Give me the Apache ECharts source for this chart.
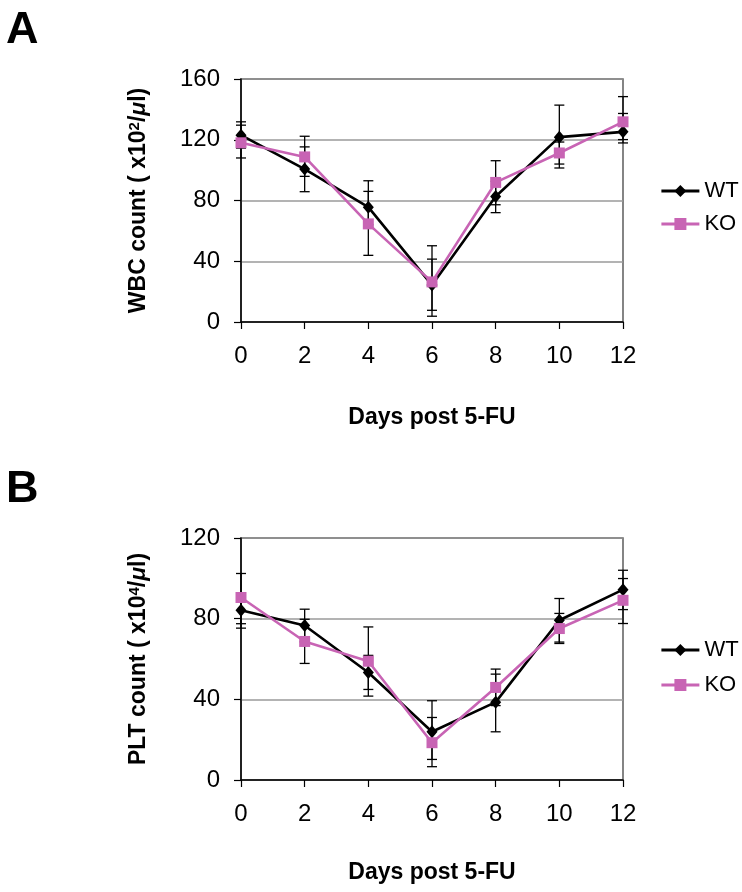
<!DOCTYPE html>
<html>
<head>
<meta charset="utf-8">
<script src="https://cdn.jsdelivr.net/npm/echarts@6/dist/echarts.min.js"></script>
<style>
html,body{margin:0;padding:0;background:#fff;}
#chart{width:742px;height:892px;}
</style>
</head>
<body>
<div id="chart"></div>
<script>
// ---- data ----
const days = [0, 2, 4, 6, 8, 10, 12];
const xTicks = [0, 2, 4, 6, 8, 10, 12];

// Panel A: WBC count (x10^2/ul)
const wbcWT   = [123, 100.7, 75.6, 24.3, 82.6, 121.7, 125.2];
const wbcWTHi = [131.8, 115.3, 93, 41.4, 92.6, 142.8, 137.3];
const wbcWTLo = [114.5, 85.8, 64, 7.7, 72, 101.4, 117.9];
const wbcKO   = [118, 108.7, 64.6, 26.4, 91.9, 111.3, 131.8];
const wbcKOHi = [129.6, 122.3, 86, 50.2, 106.2, 118.5, 148.4];
const wbcKOLo = [108, 95.9, 43.9, 3.8, 77.2, 104, 120.1];
const wbcTicks = [0, 40, 80, 120, 160];

// Panel B: PLT count (x10^4/ul)
const pltWT   = [84.2, 76.6, 53.3, 23.9, 38.6, 79.2, 94.4];
const pltWTHi = [92.5, 84.7, 61.8, 39.3, 52.5, 90, 104];
const pltWTLo = [75.3, 68.5, 44.9, 10.2, 23.9, 68.4, 84.5];
const pltKO   = [90.5, 68.7, 58.9, 18.5, 45.9, 75.1, 89.1];
const pltKOHi = [102.4, 79.7, 75.9, 31, 55, 82.6, 99.9];
const pltKOLo = [77.5, 57.8, 41.6, 6.6, 36.9, 67.7, 77.6];
const pltTicks = [0, 40, 80, 120];

const seriesNames = ['WT', 'KO'];

// ---- styles ----
const BLACK = '#000000';
const PINK = '#c864b4';
const FONT = '"Liberation Sans", Arial, Helvetica, sans-serif';

const chart = echarts.init(document.getElementById('chart'), null, {renderer: 'canvas'});

function pts(v) { return days.map((d, i) => [d, v[i]]); }
function errs(lo, hi) { return days.map((d, i) => [d, lo[i], hi[i]]); }

function errRender(params, api) {
  const x = api.value(0);
  const p1 = api.coord([x, api.value(1)]);
  const p2 = api.coord([x, api.value(2)]);
  const w = 5;
  const st = {stroke: BLACK, lineWidth: 1.3};
  return {
    type: 'group',
    children: [
      {type: 'line', shape: {x1: p1[0], y1: p1[1], x2: p2[0], y2: p2[1]}, style: st},
      {type: 'line', shape: {x1: p1[0] - w, y1: p1[1], x2: p1[0] + w, y2: p1[1]}, style: st},
      {type: 'line', shape: {x1: p2[0] - w, y1: p2[1], x2: p2[0] + w, y2: p2[1]}, style: st}
    ]
  };
}

function xAxis(gi, nameGap) {
  return {
    type: 'value', gridIndex: gi, min: xTicks[0], max: xTicks[xTicks.length - 1], interval: 2,
    name: 'Days post 5-FU', nameLocation: 'middle', nameGap: nameGap,
    nameTextStyle: {fontFamily: FONT, fontWeight: 'bold', fontSize: 23, color: '#000'},
    axisLine: {show: true, onZero: false, lineStyle: {color: '#000', width: 1.5}},
    axisTick: {show: true, inside: false, length: 7, lineStyle: {color: '#000', width: 1.2}},
    axisLabel: {fontFamily: FONT, fontSize: 24, color: '#000', margin: 22},
    splitLine: {show: false}
  };
}

function yAxis(gi, max, nameRich) {
  return {
    type: 'value', gridIndex: gi, min: 0, max: max, interval: 40,
    name: nameRich, nameLocation: 'middle', nameGap: 90, nameRotate: 90,
    nameTextStyle: {
      fontFamily: FONT, fontWeight: 'bold', fontSize: 23, color: '#000',
      rich: {
        sup: {fontFamily: FONT, fontWeight: 'bold', fontSize: 15, color: '#000', padding: [0, 0, 9, 0]},
        mu: {fontFamily: FONT, fontWeight: 'bold', fontStyle: 'italic', fontSize: 23, color: '#000'}
      }
    },
    axisLine: {show: true, lineStyle: {color: '#000', width: 1.5}},
    axisTick: {show: true, inside: false, length: 7, lineStyle: {color: '#000', width: 1.2}},
    axisLabel: {fontFamily: FONT, fontSize: 24, color: '#000', margin: 21},
    splitLine: {show: true, lineStyle: {color: '#9a9a9a', width: 1.5}}
  };
}

function lineSeries(name, data, gi, color, symbol, size, z) {
  return {
    name: name, type: 'line', xAxisIndex: gi, yAxisIndex: gi,
    data: pts(data), symbol: symbol, symbolSize: size, showSymbol: true,
    lineStyle: {color: color, width: 2.6}, itemStyle: {color: color},
    z: z, animation: false
  };
}

function errSeries(name, lo, hi, gi) {
  return {
    name: name + ' error', type: 'custom', xAxisIndex: gi, yAxisIndex: gi,
    renderItem: errRender, data: errs(lo, hi), z: 1, animation: false,
    encode: {x: 0, y: [1, 2]}
  };
}

function legend(top, gap) {
  return {
    orient: 'vertical', left: 655, top: top, itemWidth: 38, itemHeight: 15, itemGap: gap,
    data: seriesNames, selectedMode: false,
    lineStyle: {width: 2.8},
    textStyle: {fontFamily: FONT, fontSize: 22, color: '#000', lineHeight: 22}
  };
}

const option = {
  backgroundColor: '#fff',
  animation: false,
  grid: [
    {left: 241, top: 79, width: 382, height: 243, show: true, borderColor: '#444', borderWidth: 1.3, backgroundColor: 'transparent'},
    {left: 241, top: 538, width: 382, height: 242, show: true, borderColor: '#444', borderWidth: 1.3, backgroundColor: 'transparent'}
  ],
  xAxis: [xAxis(0, 84), xAxis(1, 81)],
  yAxis: [
    yAxis(0, wbcTicks[wbcTicks.length - 1], 'WBC count ( x10{sup|2}/{mu|μ}l)'),
    yAxis(1, pltTicks[pltTicks.length - 1], 'PLT count ( x10{sup|4}/{mu|μ}l)')
  ],
  legend: [legend(175, 11), legend(634, 13)],
  graphic: [
    {type: 'text', left: 6, top: 8, style: {text: 'A', fontFamily: FONT, fontWeight: 'bold', fontSize: 45, fill: '#000'}},
    {type: 'text', left: 6, top: 467, style: {text: 'B', fontFamily: FONT, fontWeight: 'bold', fontSize: 45, fill: '#000'}}
  ],
  series: [
    lineSeries('WT', wbcWT, 0, BLACK, 'diamond', [11, 13], 3),
    lineSeries('KO', wbcKO, 0, PINK, 'rect', 11, 4),
    lineSeries('WT', pltWT, 1, BLACK, 'diamond', [11, 13], 3),
    lineSeries('KO', pltKO, 1, PINK, 'rect', 11, 4),
    errSeries('WT', wbcWTLo, wbcWTHi, 0),
    errSeries('KO', wbcKOLo, wbcKOHi, 0),
    errSeries('WT', pltWTLo, pltWTHi, 1),
    errSeries('KO', pltKOLo, pltKOHi, 1)
  ]
};
chart.setOption(option);
</script>
</body>
</html>
